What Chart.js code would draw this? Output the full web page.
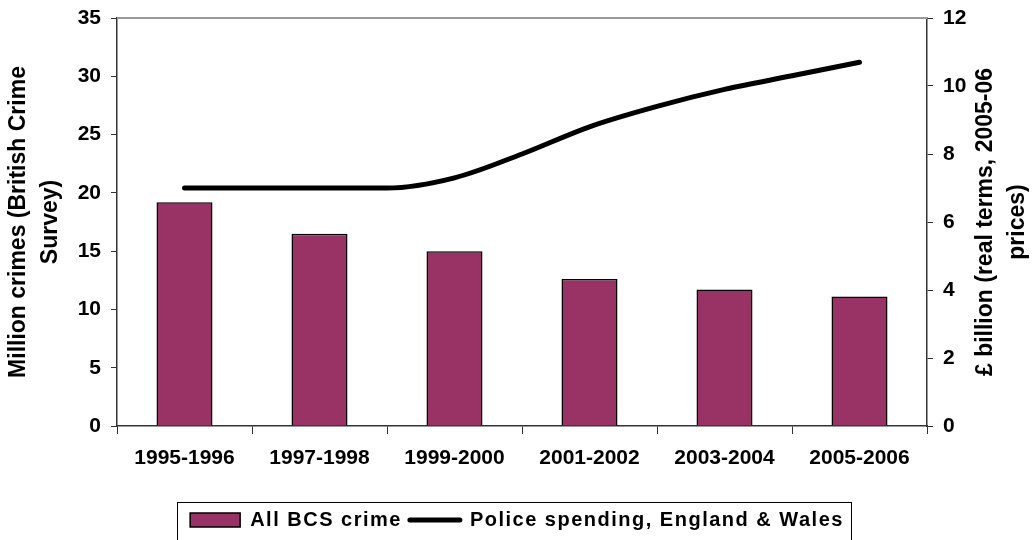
<!DOCTYPE html>
<html lang="en">
<head>
  <meta charset="UTF-8" />
  <title>Crime and police spending</title>
  <script src="https://cdn.jsdelivr.net/npm/chart.js"></script>
  <style>
    html, body { margin: 0; padding: 0; background: #ffffff; }
    #wrap { width: 1034px; height: 540px; }
  </style>
</head>
<body>
  <div id="wrap"><canvas id="crimeChart" width="1034" height="540"></canvas></div>

  <script>
    // survey periods shown as bars
    const periods = ["1995-1996", "1997-1998", "1999-2000", "2001-2002", "2003-2004", "2005-2006"];
    const crimeMillions = [19.2, 16.5, 15.0, 12.6, 11.7, 11.1];

    // police spending is annual, so it has a point every half period
    const spendYears = ["1995-96", "1996-97", "1997-98", "1998-99", "1999-00", "2000-01",
                        "2001-02", "2002-03", "2003-04", "2004-05", "2005-06"];
    const spendBillions = [7.0, 7.0, 7.0, 7.0, 7.3, 8.0, 8.8, 9.4, 9.9, 10.3, 10.7];

    const crimeTicks = [0, 5, 10, 15, 20, 25, 30, 35];
    const spendTicks = [0, 2, 4, 6, 8, 10, 12];

    const leftTitle = ["Million crimes (British Crime", "Survey)"];
    const rightTitle = ["£ billion (real terms, 2005-06", "prices)"];

    const barColor = "#993366";
    const axisColor = "#333333";
    const fontFamily = "'Liberation Sans', Arial, sans-serif";

    const spendPoints = spendBillions.map((v, i) => ({ x: i / 2, y: v }));

    // legend text is a little spaced out
    const legendSpacing = {
      id: "legendSpacing",
      beforeLayout(chart) {
        const lg = chart.legend;
        if (!lg || lg._spaced) return;
        const wrap = fn => function (...args) {
          const c = this.ctx;
          const prev = c.letterSpacing;
          c.letterSpacing = "1.5px";
          const r = fn.apply(this, args);
          c.letterSpacing = prev || "0px";
          return r;
        };
        lg.fit = wrap(lg.fit);
        lg.draw = wrap(lg.draw);
        lg._spaced = true;
      }
    };

    // frame line on top, rotated axis titles, border round the legend
    const decorations = {
      id: "decorations",
      afterDraw(chart) {
        const c = chart.ctx;
        const area = chart.chartArea;
        c.save();
        c.strokeStyle = "#999999";
        c.lineWidth = 2;
        c.beginPath();
        c.moveTo(area.left, area.top);
        c.lineTo(area.right, area.top);
        c.stroke();

        c.fillStyle = "#000000";
        c.font = "bold 23px " + fontFamily;
        c.textAlign = "center";
        c.textBaseline = "middle";
        const midY = (area.top + area.bottom) / 2;
        const drawTitle = (lines, x) => {
          c.save();
          c.translate(x, midY);
          c.rotate(-Math.PI / 2);
          lines.forEach((t, i) => c.fillText(t, 0, i * 32));
          c.restore();
        };
        drawTitle(leftTitle, 19);
        drawTitle(rightTitle, 986);

        const boxes = chart.legend.legendHitBoxes;
        if (boxes && boxes.length) {
          const l = Math.min(...boxes.map(b => b.left)) - 13;
          const r = Math.max(...boxes.map(b => b.left + b.width)) + 7;
          c.strokeStyle = "#000000";
          c.lineWidth = 1;
          c.strokeRect(Math.round(l) + 0.5, 502.5, Math.round(r - l), 40);
        }
        c.restore();
      }
    };

    // value axes take a fixed width and leave the vertical room to layout padding
    const fixValueAxis = width => scale => {
      scale.width = width;
      scale.paddingTop = 0;
      scale.paddingBottom = 0;
    };

    new Chart(document.getElementById("crimeChart"), {
      data: {
        labels: periods,
        datasets: [
          {
            type: "bar",
            label: "All BCS crime",
            data: crimeMillions,
            backgroundColor: barColor,
            borderColor: "#000000",
            borderWidth: 1.5,
            grouped: false,
            barPercentage: 0.415,
            categoryPercentage: 1,
            xAxisID: "x",
            yAxisID: "y",
            order: 2
          },
          {
            type: "line",
            label: "Police spending, England & Wales",
            data: spendPoints,
            borderColor: "#000000",
            backgroundColor: "#000000",
            borderWidth: 5,
            borderCapStyle: "round",
            pointRadius: 0,
            cubicInterpolationMode: "monotone",
            xAxisID: "xLine",
            yAxisID: "y2",
            order: 1
          }
        ]
      },
      options: {
        responsive: false,
        animation: false,
        layout: { padding: { top: 18, left: 0, right: 0, bottom: 0 } },
        plugins: {
          tooltip: { enabled: false },
          legend: {
            position: "bottom",
            labels: {
              color: "#000000",
              font: { family: fontFamily, size: 20, weight: "bold" },
              usePointStyle: true,
              pointStyleWidth: 50,
              boxHeight: 14,
              padding: 8,
              generateLabels(chart) {
                return chart.data.datasets.map((ds, i) => ({
                  text: ds.label,
                  datasetIndex: i,
                  fillStyle: ds.type === "bar" ? barColor : "#000000",
                  strokeStyle: "#000000",
                  lineWidth: ds.type === "bar" ? 1.5 : 5,
                  lineCap: "round",
                  pointStyle: ds.type === "bar" ? "rect" : "line",
                  fontColor: "#000000"
                }));
              }
            }
          }
        },
        scales: {
          x: {
            type: "category",
            offset: true,
            grid: { display: true, drawOnChartArea: false, offset: true, tickLength: 8, color: axisColor },
            border: { color: axisColor, width: 1.5 },
            ticks: { color: "#000000", font: { family: fontFamily, size: 21, weight: "bold" }, padding: 12, maxRotation: 0 },
            afterFit(scale) { scale.height = 76; }
          },
          xLine: {
            type: "linear",
            display: false,
            min: -0.5,
            max: 5.5
          },
          y: {
            position: "left",
            min: 0,
            max: 35,
            afterBuildTicks(scale) { scale.ticks = crimeTicks.map(v => ({ value: v })); },
            grid: { drawOnChartArea: false, tickLength: 6, color: axisColor },
            border: { color: axisColor, width: 1.5 },
            ticks: { color: "#000000", font: { family: fontFamily, size: 21, weight: "bold" }, padding: 10 },
            afterFit: fixValueAxis(117)
          },
          y2: {
            position: "right",
            min: 0,
            max: 12,
            afterBuildTicks(scale) { scale.ticks = spendTicks.map(v => ({ value: v })); },
            grid: { drawOnChartArea: false, tickLength: 6, color: axisColor },
            border: { color: axisColor, width: 1.5 },
            ticks: { color: "#000000", font: { family: fontFamily, size: 21, weight: "bold" }, padding: 10 },
            afterFit: fixValueAxis(107)
          }
        }
      },
      plugins: [legendSpacing, decorations]
    });
  </script>
</body>
</html>
